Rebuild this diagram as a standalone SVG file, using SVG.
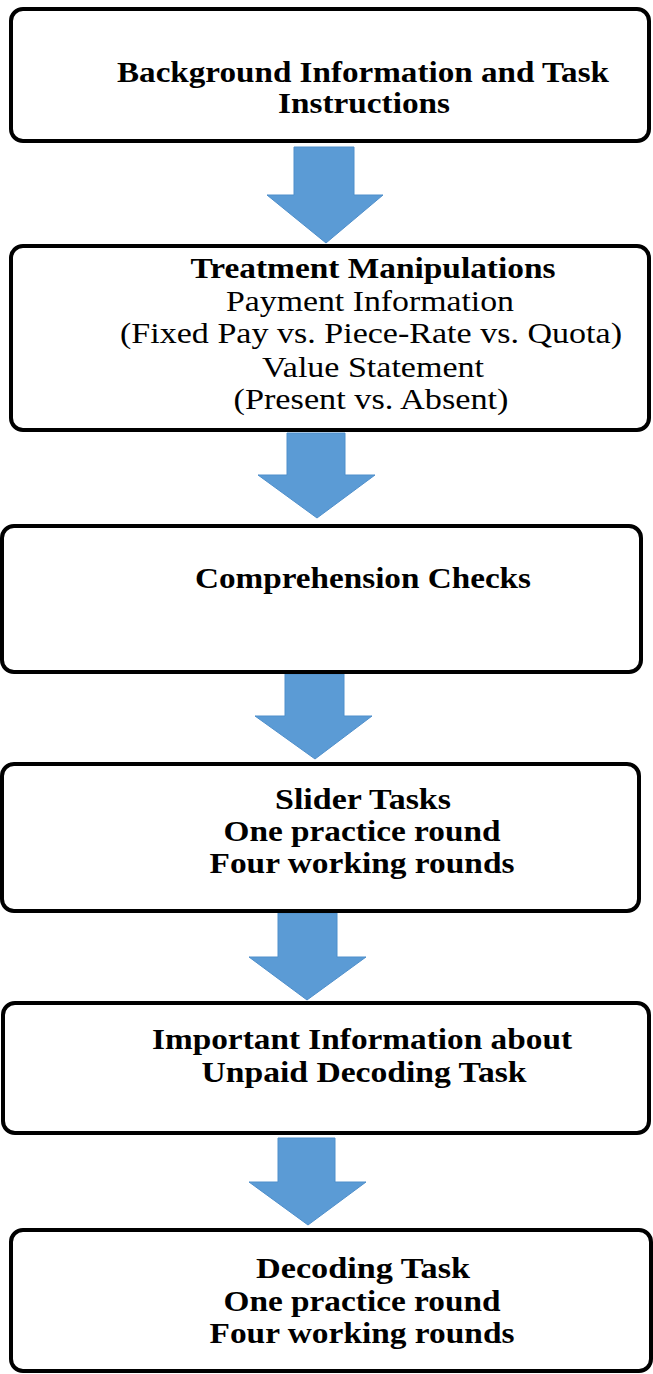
<svg xmlns="http://www.w3.org/2000/svg" width="653" height="1374" viewBox="0 0 653 1374">
<style>
.box{fill:#fff;stroke:#000;stroke-width:4}
.t{font-family:"Liberation Serif","Times New Roman",serif;font-size:29px;fill:#000;text-anchor:middle}
.b{font-weight:bold}
.arr{fill:#5B9BD5;stroke:#4F8FCB;stroke-width:1}
</style>
<g id="connectors">
<polygon class="arr" points="294,147 354,147 354,195 383,195 326,243 267,195 294,195"/>
<polygon class="arr" points="287,433 345,433 345,475 375,475 317,518 258,475 287,475"/>
<polygon class="arr" points="285,674 344,674 344,716 372,716 315,759 255,716 285,716"/>
<polygon class="arr" points="278,913 337,913 337,957 366,957 307,1000 249,957 278,957"/>
<polygon class="arr" points="278,1138 335,1138 335,1182 366,1182 308,1225 249,1182 278,1182"/>
</g>
<g id="node1">
<rect class="box" x="11" y="9" width="638" height="132" rx="12"/>
<text class="t b" x="363" y="82" textLength="492" lengthAdjust="spacingAndGlyphs">Background Information and Task</text>
<text class="t b" x="364" y="113" textLength="172" lengthAdjust="spacingAndGlyphs">Instructions</text>
</g>
<g id="node2">
<rect class="box" x="11" y="246" width="638" height="184" rx="12"/>
<text class="t b" x="373" y="278" textLength="365" lengthAdjust="spacingAndGlyphs">Treatment Manipulations</text>
<text class="t" x="370" y="311" textLength="288" lengthAdjust="spacingAndGlyphs">Payment Information</text>
<text class="t" x="371" y="343" textLength="502" lengthAdjust="spacingAndGlyphs">(Fixed Pay vs. Piece-Rate vs. Quota)</text>
<text class="t" x="373" y="377" textLength="222" lengthAdjust="spacingAndGlyphs">Value Statement</text>
<text class="t" x="371" y="409" textLength="275" lengthAdjust="spacingAndGlyphs">(Present vs. Absent)</text>
</g>
<g id="node3">
<rect class="box" x="2" y="526" width="639" height="146" rx="12"/>
<text class="t b" x="363" y="588" textLength="336" lengthAdjust="spacingAndGlyphs">Comprehension Checks</text>
</g>
<g id="node4">
<rect class="box" x="2" y="764" width="637" height="147" rx="12"/>
<text class="t b" x="363" y="809" textLength="176" lengthAdjust="spacingAndGlyphs">Slider Tasks</text>
<text class="t b" x="362" y="841" textLength="277" lengthAdjust="spacingAndGlyphs">One practice round</text>
<text class="t b" x="362" y="873" textLength="305" lengthAdjust="spacingAndGlyphs">Four working rounds</text>
</g>
<g id="node5">
<rect class="box" x="3" y="1003" width="646" height="130" rx="12"/>
<text class="t b" x="362" y="1049" textLength="420" lengthAdjust="spacingAndGlyphs">Important Information about</text>
<text class="t b" x="364" y="1082" textLength="325" lengthAdjust="spacingAndGlyphs">Unpaid Decoding Task</text>
</g>
<g id="node6">
<rect class="box" x="11" y="1230" width="640" height="141" rx="12"/>
<text class="t b" x="363" y="1278" textLength="214" lengthAdjust="spacingAndGlyphs">Decoding Task</text>
<text class="t b" x="362" y="1311" textLength="277" lengthAdjust="spacingAndGlyphs">One practice round</text>
<text class="t b" x="362" y="1343" textLength="305" lengthAdjust="spacingAndGlyphs">Four working rounds</text>
</g>
</svg>
